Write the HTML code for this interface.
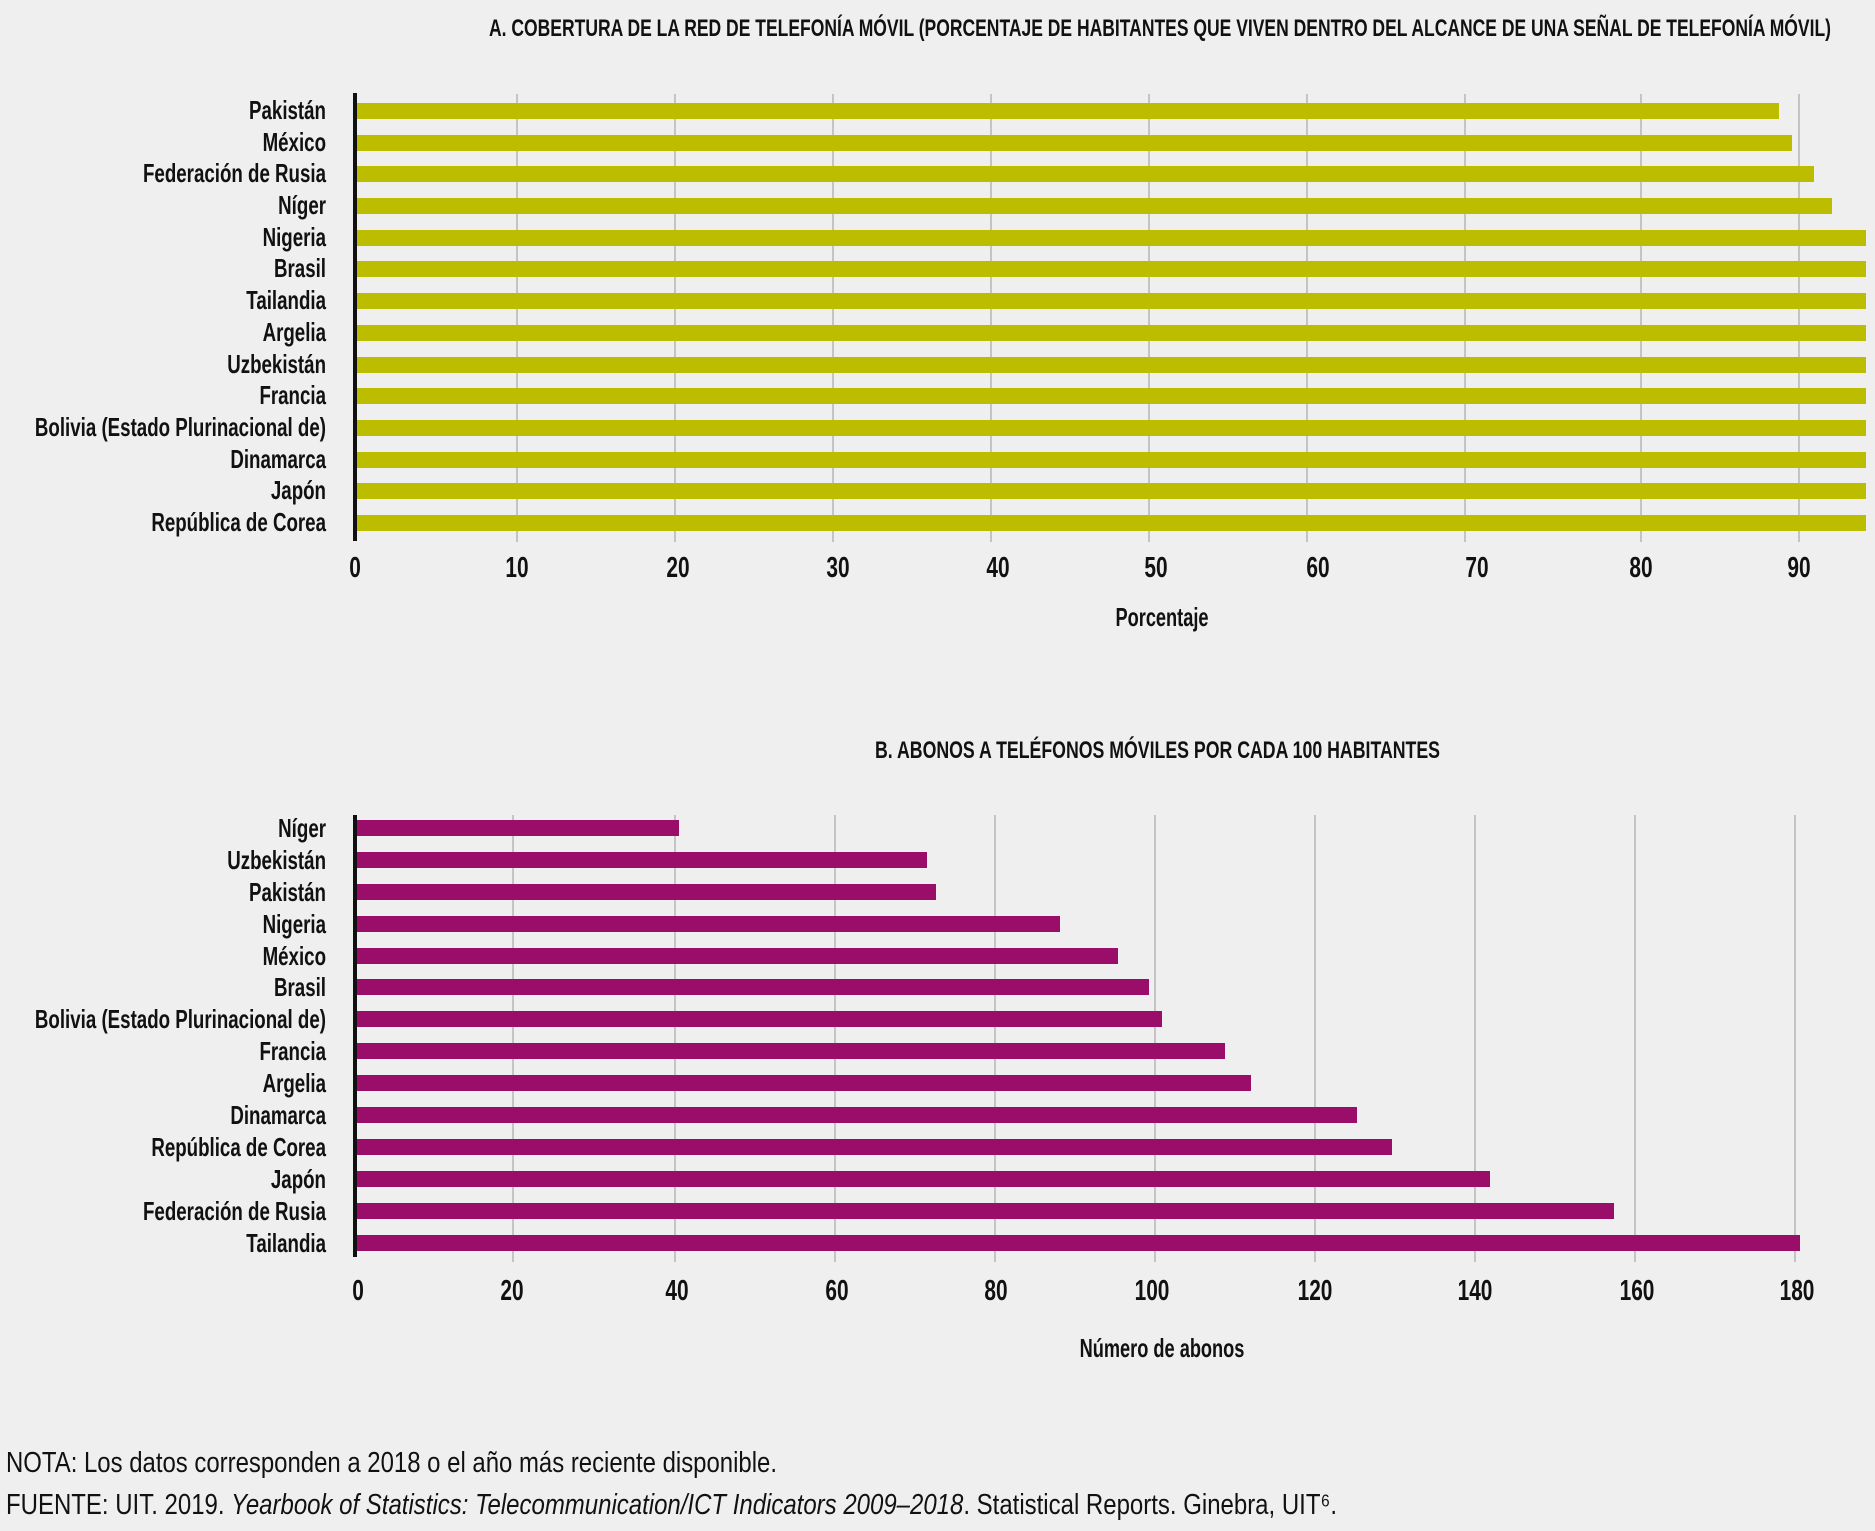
<!DOCTYPE html>
<html><head><meta charset="utf-8"><style>
html,body{margin:0;padding:0;background:#efefef;}
svg{display:block;}
text{font-family:"Liberation Sans",sans-serif;fill:#111;}
</style></head><body>
<svg width="1875" height="1531" viewBox="0 0 1875 1531" xmlns="http://www.w3.org/2000/svg">
<rect width="1875" height="1531" fill="#efefef"/>
<!-- Chart A -->
<text x="489" y="36" font-size="24" font-weight="bold" textLength="1342" lengthAdjust="spacingAndGlyphs">A. COBERTURA DE LA RED DE TELEFONÍA MÓVIL (PORCENTAJE DE HABITANTES QUE VIVEN DENTRO DEL ALCANCE DE UNA SEÑAL DE TELEFONÍA MÓVIL)</text>
<g stroke="#b5b5b5" stroke-width="1.5">
<line x1="517" y1="94" x2="517" y2="542"/><line x1="675" y1="94" x2="675" y2="542"/><line x1="833" y1="94" x2="833" y2="542"/><line x1="991" y1="94" x2="991" y2="542"/><line x1="1149" y1="94" x2="1149" y2="542"/><line x1="1307" y1="94" x2="1307" y2="542"/><line x1="1465" y1="94" x2="1465" y2="542"/><line x1="1641" y1="94" x2="1641" y2="542"/><line x1="1799" y1="94" x2="1799" y2="542"/>
</g>
<g fill="#bdbd00">
<rect x="357" y="103" width="1422" height="16"/>
<rect x="357" y="135" width="1435" height="16"/>
<rect x="357" y="166" width="1457" height="16"/>
<rect x="357" y="198" width="1475" height="16"/>
<rect x="357" y="230" width="1509" height="16"/>
<rect x="357" y="261" width="1509" height="16"/>
<rect x="357" y="293" width="1509" height="16"/>
<rect x="357" y="325" width="1509" height="16"/>
<rect x="357" y="357" width="1509" height="16"/>
<rect x="357" y="388" width="1509" height="16"/>
<rect x="357" y="420" width="1509" height="16"/>
<rect x="357" y="452" width="1509" height="16"/>
<rect x="357" y="483" width="1509" height="16"/>
<rect x="357" y="515" width="1509" height="16"/>
</g>
<rect x="353" y="93" width="4" height="448" fill="#111"/>
<g font-size="26" font-weight="bold" text-anchor="end" transform="translate(326,0) scale(0.72,1)">
<text x="0" y="119">Pakistán</text><text x="0" y="151">México</text><text x="0" y="182">Federación de Rusia</text><text x="0" y="214">Níger</text><text x="0" y="246">Nigeria</text><text x="0" y="277">Brasil</text><text x="0" y="309">Tailandia</text><text x="0" y="341">Argelia</text><text x="0" y="373">Uzbekistán</text><text x="0" y="404">Francia</text><text x="0" y="436">Bolivia (Estado Plurinacional de)</text><text x="0" y="468">Dinamarca</text><text x="0" y="499">Japón</text><text x="0" y="531">República de Corea</text>
</g>
<g font-size="29" font-weight="bold" text-anchor="middle">
<text transform="translate(355,577) scale(0.72,1)">0</text><text transform="translate(517,577) scale(0.72,1)">10</text><text transform="translate(678,577) scale(0.72,1)">20</text><text transform="translate(838,577) scale(0.72,1)">30</text><text transform="translate(998,577) scale(0.72,1)">40</text><text transform="translate(1156,577) scale(0.72,1)">50</text><text transform="translate(1318,577) scale(0.72,1)">60</text><text transform="translate(1477,577) scale(0.72,1)">70</text><text transform="translate(1641,577) scale(0.72,1)">80</text><text transform="translate(1799,577) scale(0.72,1)">90</text>
<text transform="translate(1162,626) scale(0.7,1)" font-size="26">Porcentaje</text>
</g>
<!-- Chart B -->
<text x="875" y="758" font-size="24" font-weight="bold" textLength="565" lengthAdjust="spacingAndGlyphs">B. ABONOS A TELÉFONOS MÓVILES POR CADA 100 HABITANTES</text>
<g stroke="#b5b5b5" stroke-width="1.5">
<line x1="513" y1="815" x2="513" y2="1262"/><line x1="675" y1="815" x2="675" y2="1262"/><line x1="835" y1="815" x2="835" y2="1262"/><line x1="995" y1="815" x2="995" y2="1262"/><line x1="1155" y1="815" x2="1155" y2="1262"/><line x1="1315" y1="815" x2="1315" y2="1262"/><line x1="1475" y1="815" x2="1475" y2="1262"/><line x1="1635" y1="815" x2="1635" y2="1262"/><line x1="1795" y1="815" x2="1795" y2="1262"/>
</g>
<g fill="#9a0e6a">
<rect x="357" y="820" width="322" height="16"/>
<rect x="357" y="852" width="570" height="16"/>
<rect x="357" y="884" width="579" height="16"/>
<rect x="357" y="916" width="703" height="16"/>
<rect x="357" y="948" width="761" height="16"/>
<rect x="357" y="979" width="792" height="16"/>
<rect x="357" y="1011" width="805" height="16"/>
<rect x="357" y="1043" width="868" height="16"/>
<rect x="357" y="1075" width="894" height="16"/>
<rect x="357" y="1107" width="1000" height="16"/>
<rect x="357" y="1139" width="1035" height="16"/>
<rect x="357" y="1171" width="1133" height="16"/>
<rect x="357" y="1203" width="1257" height="16"/>
<rect x="357" y="1235" width="1443" height="16"/>
</g>
<rect x="353" y="815" width="4" height="442" fill="#111"/>
<g font-size="26" font-weight="bold" text-anchor="end" transform="translate(326,0) scale(0.72,1)">
<text x="0" y="837">Níger</text><text x="0" y="869">Uzbekistán</text><text x="0" y="901">Pakistán</text><text x="0" y="933">Nigeria</text><text x="0" y="965">México</text><text x="0" y="996">Brasil</text><text x="0" y="1028">Bolivia (Estado Plurinacional de)</text><text x="0" y="1060">Francia</text><text x="0" y="1092">Argelia</text><text x="0" y="1124">Dinamarca</text><text x="0" y="1156">República de Corea</text><text x="0" y="1188">Japón</text><text x="0" y="1220">Federación de Rusia</text><text x="0" y="1252">Tailandia</text>
</g>
<g font-size="29" font-weight="bold" text-anchor="middle">
<text transform="translate(358,1300) scale(0.72,1)">0</text><text transform="translate(512,1300) scale(0.72,1)">20</text><text transform="translate(677,1300) scale(0.72,1)">40</text><text transform="translate(837,1300) scale(0.72,1)">60</text><text transform="translate(996,1300) scale(0.72,1)">80</text><text transform="translate(1152,1300) scale(0.72,1)">100</text><text transform="translate(1315,1300) scale(0.72,1)">120</text><text transform="translate(1475,1300) scale(0.72,1)">140</text><text transform="translate(1637,1300) scale(0.72,1)">160</text><text transform="translate(1797,1300) scale(0.72,1)">180</text>
<text transform="translate(1162,1357) scale(0.7,1)" font-size="26">Número de abonos</text>
</g>
<!-- Notes -->
<text x="6" y="1472" font-size="29" textLength="771" lengthAdjust="spacingAndGlyphs">NOTA: Los datos corresponden a 2018 o el año más reciente disponible.</text>
<text x="6" y="1514" font-size="29" textLength="1331" lengthAdjust="spacingAndGlyphs">FUENTE: UIT. 2019. <tspan font-style="italic">Yearbook of Statistics: Telecommunication/ICT Indicators 2009–2018</tspan>. Statistical Reports. Ginebra, UIT⁶.</text>
</svg>
</body></html>
